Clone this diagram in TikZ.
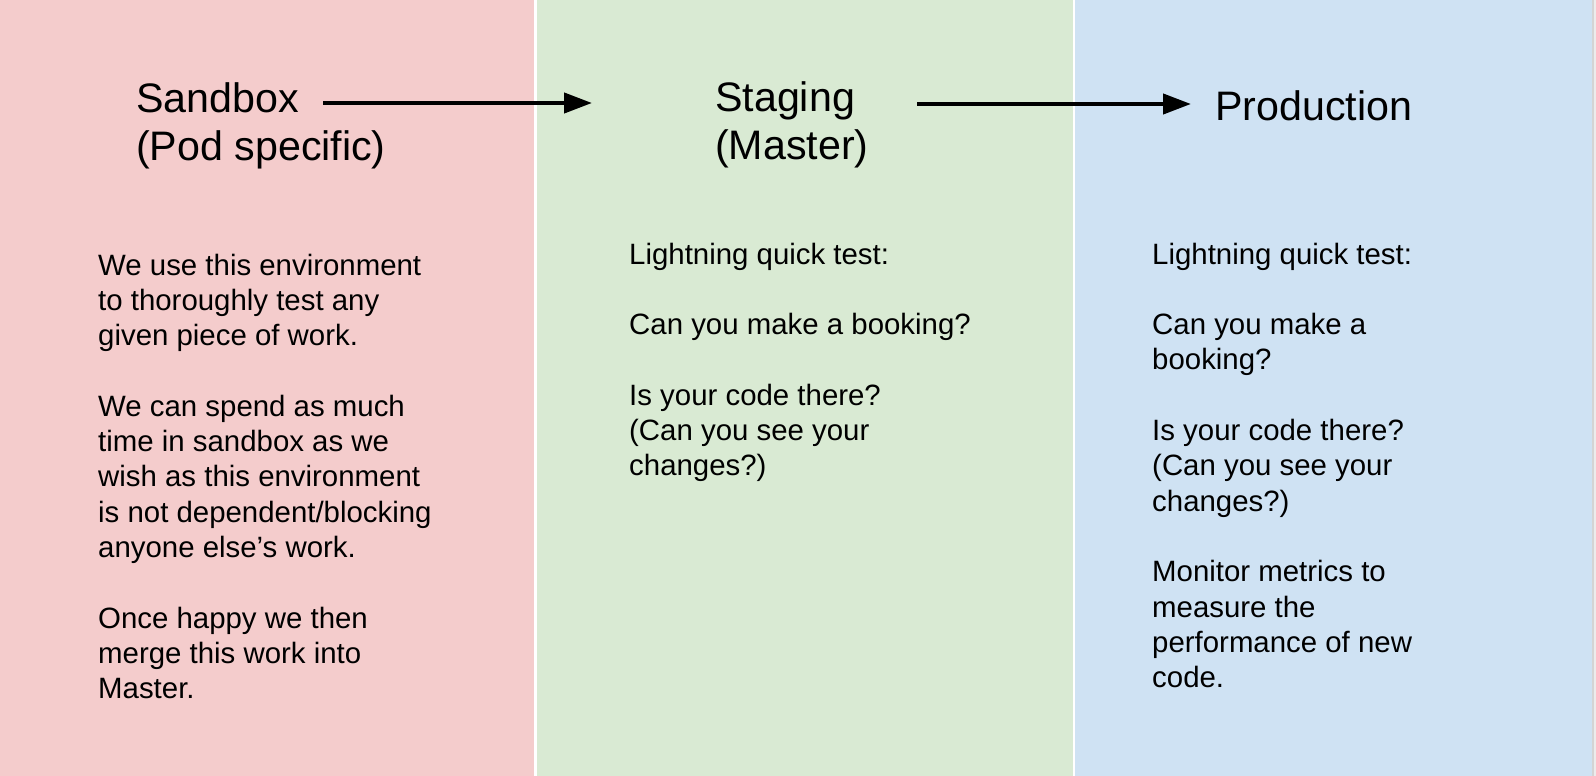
\documentclass[tikz,border=0pt]{standalone}
\usepackage{fontspec}
\setmainfont{Liberation Sans}
\usetikzlibrary{arrows.meta}
\definecolor{sandboxred}{HTML}{F4CCCC}
\definecolor{staginggreen}{HTML}{D9EAD3}
\definecolor{prodblue}{HTML}{CFE2F3}
\definecolor{edgegray}{HTML}{D4D4D4}
\definecolor{edgelight}{HTML}{ECECEC}
\begin{document}
\begin{tikzpicture}[x=1pt, y=-1pt,
  title/.style = {inner sep=0pt, anchor=base west, align=left, font=\fontsize{41.2pt}{48pt}\selectfont},
  body/.style = {inner sep=0pt, anchor=base west, align=left, font=\fontsize{29.4pt}{35.3pt}\selectfont},
  flow/.style = {line width=4.2pt, -{Triangle[length=28pt, width=20pt]}}]
  \useasboundingbox (0,0) rectangle (1596,776);
  % columns
  \fill[white] (0,0) rectangle (1596,776);
  \fill[sandboxred] (0,0) rectangle (534,776);
  \fill[staginggreen] (537,0) rectangle (1073,776);
  \fill[prodblue] (1075,0) rectangle (1592,776);
  \fill[edgegray] (1592,0) rectangle (1593.5,776);
  \fill[edgelight] (1593.5,0) rectangle (1596,776);
  % titles (base = last line)
  \node[title] (sandbox) at (136,160) {Sandbox\\(Pod specific)};
  \node[title] (staging) at (715,159) {Staging\\(Master)};
  \node[title] (production) at (1215,120) {Production};
  \coordinate (a1) at (323,103);
  \coordinate (b1) at (592,103);
  \coordinate (a2) at (917,104);
  \coordinate (b2) at (1191,104);
  \draw[flow] (a1) -- (b1);
  \draw[flow] (a2) -- (b2);
  % sandbox text
  \node[body] (sb1) at (98,345.6) {We use this environment\\to thoroughly test any\\given piece of work.};
  \node[body] (sb2) at (98,557.4) {We can spend as much\\time in sandbox as we\\wish as this environment\\is not dependent/blocking\\anyone else’s work.};
  \node[body] (sb3) at (98,698.6) {Once happy we then\\merge this work into\\Master.};
  % staging text
  \node[body] (st1) at (629,264) {Lightning quick test:};
  \node[body] (st2) at (629,334.6) {Can you make a booking?};
  \node[body] (st3) at (629,475.8) {Is your code there?\\(Can you see your\\changes?)};
  % production text
  \node[body] (pr1) at (1152,264) {Lightning quick test:};
  \node[body] (pr2) at (1152,369.9) {Can you make a\\booking?};
  \node[body] (pr3) at (1152,511.1) {Is your code there?\\(Can you see your\\changes?)};
  \node[body] (pr4) at (1152,687.6) {Monitor metrics to\\measure the\\performance of new\\code.};
\end{tikzpicture}
\end{document}
